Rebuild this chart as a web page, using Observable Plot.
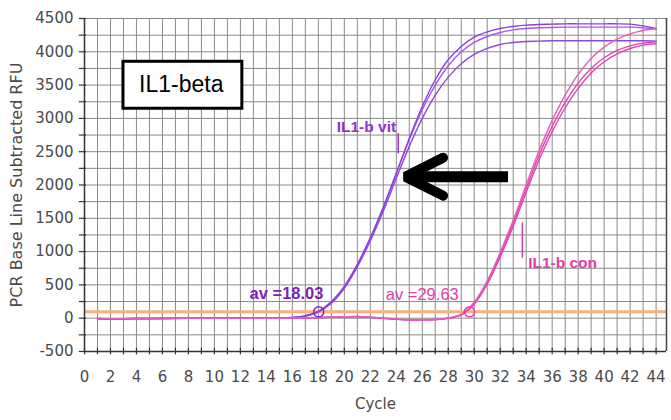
<!DOCTYPE html>
<html>
<head>
<meta charset="utf-8">
<script src="https://cdn.jsdelivr.net/npm/d3@7"></script>
<script src="https://cdn.jsdelivr.net/npm/@observablehq/plot@0.6"></script>
<style>
  html, body { margin: 0; padding: 0; background: #fff; }
  #chart svg { display: block; }
</style>
</head>
<body>
<div id="chart"></div>
<script>
// ---- data ----
const cycles = d3.range(1, 45);   // cycles 1..44

const vitA = [-10,-10,-8,-6,-5,-4,-3,-2,-2,-1,0,0,0,2,3,
  10,35,100,240,470,800,1200,1660,2170,2700,3180,3580,3880,4080,4220,
  4300,4350,4380,4400,4410,4415,4420,4420,4420,4420,4420,4415,4390,4350];
const vitB = [-5,-8,-6,-5,-4,-3,-2,-2,-1,0,0,0,1,2,4,
  12,38,105,250,480,810,1210,1670,2180,2680,3130,3500,3790,4000,4140,
  4230,4290,4330,4350,4360,4365,4370,4370,4370,4370,4370,4370,4360,4340];
const vitC = [-8,-10,-9,-7,-6,-5,-4,-3,-2,-2,-1,0,0,1,2,
  8,30,90,225,450,770,1160,1610,2100,2580,3000,3350,3620,3820,3960,
  4050,4110,4140,4155,4160,4165,4165,4165,4165,4165,4165,4165,4165,4160];

const conA = [-5,-8,-6,-5,-4,-3,-3,-2,-2,-1,0,0,0,0,0,0,5,10,15,20,
  25,15,0,-15,-25,-25,-20,0,55,230,540,960,1430,1950,2450,2880,3240,3530,
  3750,3910,4020,4090,4130,4150];
const conB = [-6,-7,-6,-4,-4,-3,-2,-2,-1,-1,0,0,0,0,0,2,6,12,16,22,
  26,16,2,-12,-22,-22,-16,5,60,240,560,990,1470,2000,2520,2970,3350,3660,
  3900,4070,4190,4270,4320,4350];
const conC = [-4,-8,-7,-5,-5,-4,-3,-2,-2,-1,0,0,0,0,0,0,4,8,14,18,
  22,12,-2,-18,-26,-26,-22,-3,50,210,510,920,1380,1890,2380,2800,3160,3450,
  3680,3850,3970,4050,4100,4120];

const threshold = 95;
const ctValues = [18.03, 29.63];
const ctLabels = ["av =18.03", "av =29.63"];
const seriesNames = ["IL1-b vit", "IL1-b con"];
const xTicks = d3.range(0, 45, 2);
const yTicks = d3.range(-500, 4501, 500);

// annotation anchors in data coordinates
const boxRect = {x1: 3.0, x2: 12.15, y1: 3145, y2: 3850};
const boxText = {x: 7.45, y: 3500, text: "IL1-beta"};
const nameLabels = [
  {x: 21.7, y: 2875, text: seriesNames[0], c: "#9a2fd0"},
  {x: 36.8, y: 835,  text: seriesNames[1], c: "#e03ca8"}
];
const pointers = [
  {x: 24.15, y1: 2770, y2: 2470, c: "#9a2fd0"},
  {x: 33.7,  y1: 1430, y2: 900,  c: "#e03ca8"}
];
const ctTextVit = [{x: 15.55, y: 370, text: ctLabels[0]}];
const ctTextCon = [{x: 26.0,  y: 355, text: ctLabels[1]}];
const arrowShaft = [{x1: 32.6, y1: 2125, x2: 25.2, y2: 2125}];
const arrowHead = [{x: 27.6, y: 2410}, {x: 24.7, y: 2125}, {x: 27.6, y: 1840}];

// ---- tidy table ----
const rows = [];
const add = (arr, group, rep) => arr.forEach((v, i) => rows.push({cycle: cycles[i], rfu: v, group, rep}));
add(vitC, "vit", "C"); add(vitB, "vit", "B"); add(vitA, "vit", "A");
add(conC, "con", "C"); add(conA, "con", "A"); add(conB, "con", "B");

const colorOf = {
  "vit-A": "#8f3ee0", "vit-B": "#a45ae8", "vit-C": "#9446d8",
  "con-A": "#e23fb3", "con-B": "#e85cc0", "con-C": "#dc45b0"
};

const chart = Plot.plot({
  width: 671,
  height: 420,
  marginLeft: 84,
  marginRight: 5,
  marginTop: 18,
  marginBottom: 69,
  x: {domain: [0, 44.8]},
  y: {domain: [-500, 4500]},
  style: {fontFamily: "DejaVu Sans, sans-serif", background: "#fff"},
  marks: [
    // grid
    Plot.ruleX(d3.range(1, 45), {stroke: "#8a8a8a", strokeWidth: 1}),
    Plot.ruleY(d3.range(-250, 4501, 250), {stroke: "#8a8a8a", strokeWidth: 1}),
    // threshold
    Plot.ruleY([threshold], {stroke: "#f6b07a", strokeWidth: 3}),
    // curves
    Plot.line(rows, {x: "cycle", y: "rfu", z: d => d.group + "-" + d.rep,
      stroke: d => colorOf[d.group + "-" + d.rep], strokeWidth: 1.4, curve: "catmull-rom"}),
    // Ct circles
    Plot.dot(ctValues, {x: d => d, y: threshold, r: 5, fill: "none",
      stroke: (d, i) => i === 0 ? "#8a22c0" : "#e03ca8", strokeWidth: 1.5}),
    // axes lines
    Plot.ruleX([0], {stroke: "#333", strokeWidth: 1.5}),
    Plot.ruleX([44.8], {stroke: "#444", strokeWidth: 1.5}),
    Plot.ruleY([-500], {stroke: "#333", strokeWidth: 1.5}),
    // tick marks
    Plot.ruleX(d3.range(0, 45), {y1: -550, y2: -450, stroke: "#333", strokeWidth: 1.2}),
    Plot.ruleY(d3.range(-500, 4501, 250), {x1: -0.4, x2: 0.15, stroke: "#333", strokeWidth: 1.2}),
    // tick labels
    Plot.axisY({ticks: yTicks, tickSize: 0, tickPadding: 11, tickFormat: d => String(d),
      fontSize: 15, fill: "#4a4a4a", label: null}),
    Plot.axisX({ticks: xTicks, tickSize: 0, tickPadding: 20, tickFormat: d => String(d),
      fontSize: 15, fill: "#4a4a4a", label: null}),
    // axis titles
    Plot.text(["PCR Base Line Subtracted RFU"], {frameAnchor: "left", textAnchor: "middle",
      dx: -68, rotate: -90, fontSize: 16, fill: "#4a4a4a"}),
    Plot.text(["Cycle"], {frameAnchor: "bottom", dy: 57, fontSize: 15, fill: "#4a4a4a"}),
    // legend box
    Plot.rect([boxRect], {x1: "x1", x2: "x2", y1: "y1", y2: "y2", fill: "#fff", stroke: "#000", strokeWidth: 3}),
    Plot.text([boxText], {x: "x", y: "y", text: "text", fontSize: 23,
      fontFamily: "Liberation Sans, Arial, sans-serif", fill: "#000"}),
    // series labels and pointers
    Plot.text(nameLabels, {x: "x", y: "y", text: "text", fill: "c", fontSize: 15.5, fontWeight: "bold",
      fontFamily: "Liberation Sans, Arial, sans-serif"}),
    Plot.ruleX(pointers, {x: "x", y1: "y1", y2: "y2", stroke: "c", strokeWidth: 1.5}),
    Plot.text(ctTextVit, {x: "x", y: "y", text: "text", fill: "#7e1fb8", fontSize: 16.5, fontWeight: "bold",
      fontFamily: "Liberation Sans, Arial, sans-serif"}),
    Plot.text(ctTextCon, {x: "x", y: "y", text: "text", fill: "#e040a8", fontSize: 16.5,
      fontFamily: "Liberation Sans, Arial, sans-serif"}),
    // black arrow
    Plot.link(arrowShaft, {x1: "x1", y1: "y1", x2: "x2", y2: "y2", stroke: "#000", strokeWidth: 11}),
    Plot.line(arrowHead, {x: "x", y: "y", stroke: "#000", strokeWidth: 10, strokeLinejoin: "miter",
      strokeLinecap: "round"})
  ]
});
document.getElementById("chart").appendChild(chart);
</script>
</body>
</html>
